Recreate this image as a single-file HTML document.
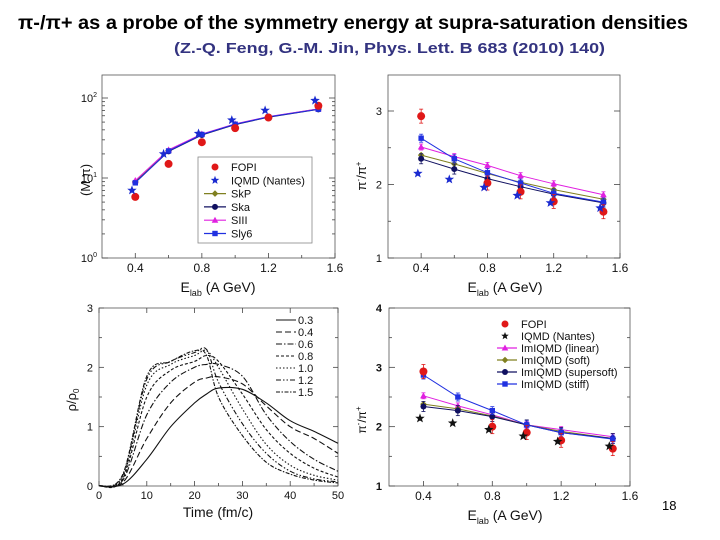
<!DOCTYPE html>
<html><head><meta charset="utf-8"><style>
body{margin:0;background:#fff}
svg{display:block;font-family:"Liberation Sans",sans-serif}
</style></head><body>
<svg id="s" width="720" height="540" viewBox="0 0 720 540">
<text x="18" y="29" font-size="19" font-weight="bold" textLength="670" lengthAdjust="spacingAndGlyphs">π-/π+ as a probe of the symmetry energy at supra-saturation densities</text>
<text x="174" y="53" font-size="15" font-weight="bold" fill="#333380" textLength="431" lengthAdjust="spacingAndGlyphs">(Z.-Q. Feng, G.-M. Jin, Phys. Lett. B 683 (2010) 140)</text>
<text x="662" y="510" font-size="13">18</text>
</svg>
<script>
// ---- data chart 1 (multiplicity, log) ----
const energies = [0.4,0.6,0.8,1.0,1.2,1.5];
const starE = [0.38,0.57,0.78,0.98,1.18,1.48];
const c1Fopi = [5.8,15,28,42,57,80];
const c1Iqmd = [7,20,36,53,70,93];
const c1SkP = [9,22,35,47,58,73];
const c1Ska = [8.8,21.5,34.5,46.5,57.5,72];
const c1SIII = [9.3,22.5,35.5,47.5,58.5,73];
const c1Sly6 = [8.7,21.8,35,47,58,72.5];
// ---- data chart 2 (ratio) ----
const c2Fopi = [2.93,null,2.02,1.9,1.77,1.63];
const c2Iqmd = [2.15,2.07,1.96,1.85,1.75,1.68];
const c2SkP = [2.4,2.28,2.15,2.03,1.93,1.8];
const c2Ska = [2.35,2.21,2.08,1.97,1.87,1.75];
const c2SIII = [2.51,2.38,2.26,2.12,2.01,1.86];
const c2Sly6 = [2.63,2.35,2.16,2.02,1.88,1.76];
// ---- data chart 3 (density vs time) ----
const times = [0,5,10,15,20,22.5,25,30,35,40,45,50];
const dLabels = ['0.3','0.4','0.6','0.8','1.0','1.2','1.5'];
const d03 = [0,0.03,0.45,1.0,1.4,1.55,1.65,1.63,1.4,1.1,0.92,0.72];
const d04 = [0,0.06,0.8,1.4,1.75,1.82,1.84,1.72,1.35,1.0,0.8,0.55];
const d06 = [0,0.1,1.2,1.75,2.0,2.05,2.05,1.85,1.2,0.75,0.45,0.25];
const d08 = [0,0.12,1.5,1.95,2.1,2.2,2.1,1.55,0.95,0.55,0.3,0.15];
const d10 = [0,0.15,1.7,2.05,2.2,2.28,2.0,1.3,0.7,0.35,0.18,0.1];
const d12 = [0,0.18,1.8,2.1,2.25,2.3,1.75,1.05,0.55,0.25,0.12,0.07];
const d15 = [0,0.2,1.85,2.1,2.28,2.2,1.5,0.85,0.4,0.2,0.1,0.05];
// ---- data chart 4 (ratio ImIQMD) ----
const c4Fopi = [2.93,null,2.0,1.9,1.77,1.63];
const c4Iqmd = [2.14,2.06,1.95,1.84,1.75,1.67];
const c4Linear = [2.52,2.35,2.2,2.03,1.95,1.83];
const c4Soft = [2.38,2.3,2.18,2.03,1.92,1.8];
const c4Super = [2.34,2.27,2.17,2.03,1.9,1.8];
const c4Stiff = [2.87,2.5,2.27,2.03,1.9,1.79];
const xTicksE = [0.4,0.8,1.2,1.6];

const NS='http://www.w3.org/2000/svg';
const svg=document.getElementById('s');
function mk(tag,attrs,parent){const e=document.createElementNS(NS,tag);for(const k in attrs)e.setAttribute(k,attrs[k]);(parent||svg).appendChild(e);return e;}
function lin(d0,d1,r0,r1){return v=>r0+(v-d0)/(d1-d0)*(r1-r0);}

function frame(g,x0,y0,x1,y1){
  const r=mk('rect',{x:x0,y:y0,width:x1-x0,height:y1-y0,fill:'none',stroke:'#555','stroke-width':0.8},g);
  
  
}
function tickLine(g,x1,y1,x2,y2){mk('line',{x1,y1,x2,y2,stroke:'#444','stroke-width':0.8},g);}
function txt(g,x,y,s,opts){const t=mk('text',Object.assign({x,y,'font-size':12,fill:'#111'},opts||{}),g);t.textContent=s;return t;}

function star(g,cx,cy,r,fill){
  let p='';for(let i=0;i<10;i++){const a=-Math.PI/2+i*Math.PI/5;const rr=i%2?r*0.42:r;p+=(cx+rr*Math.cos(a)).toFixed(1)+','+(cy+rr*Math.sin(a)).toFixed(1)+' ';}
  return mk('polygon',{points:p,fill},g);
}
function marker(g,type,cx,cy,color,size){
  if(type==='circle')return mk('circle',{cx,cy,r:size||4,fill:color},g);
  if(type==='square')return mk('rect',{x:cx-2.7,y:cy-2.7,width:5.4,height:5.4,fill:color},g);
  if(type==='tri')return mk('polygon',{points:`${cx},${cy-3.5} ${cx+3.3},${cy+2.5} ${cx-3.3},${cy+2.5}`,fill:color},g);
  if(type==='diamond')return mk('polygon',{points:`${cx},${cy-3.3} ${cx+3.3},${cy} ${cx},${cy+3.3} ${cx-3.3},${cy}`,fill:color},g);
  if(type==='hex')return mk('circle',{cx,cy,r:3,fill:color},g);
  if(type==='star')return star(g,cx,cy,size||5,color);
}
function series(g,name,xs,ys,sx,sy,color,type,line,err){
  const sg=mk('g',{},g);
  
  
  if(line){let d='';xs.forEach((x,i)=>{if(ys[i]==null)return;d+=(d?'L':'M')+sx(x).toFixed(1)+','+sy(ys[i]).toFixed(1);});mk('path',{d,fill:'none',stroke:color,'stroke-width':1},sg);}
  xs.forEach((x,i)=>{if(ys[i]==null)return;const cx=sx(x),cy=sy(ys[i]);
    if(err){mk('line',{x1:cx,y1:cy-err,x2:cx,y2:cy+err,stroke:color,'stroke-width':0.8},sg);mk('line',{x1:cx-2,y1:cy-err,x2:cx+2,y2:cy-err,stroke:color,'stroke-width':0.8},sg);mk('line',{x1:cx-2,y1:cy+err,x2:cx+2,y2:cy+err,stroke:color,'stroke-width':0.8},sg);}
    const m=marker(sg,type,cx,cy,color,type==='circle'?4:(type==='star'?5:null));
    
    
  });
}
function eAxisX(g,sx,yb,y0){
  xTicksE.forEach(v=>{tickLine(g,sx(v),yb,sx(v),yb-5);txt(g,sx(v),yb+14,v.toFixed(1),{'text-anchor':'middle'});});
  [0.2,0.6,1.0,1.4].forEach(v=>{if(sx(v)>sx(0.2)+1)tickLine(g,sx(v),yb,sx(v),yb-3);});
}
function eLabel(g,cx,y,name){
  const t=mk('text',{x:cx,y,'font-size':14,'text-anchor':'middle',fill:'#111'},g);
  
  
  t.innerHTML='E<tspan font-size="9" dy="4">lab</tspan><tspan dy="-4"> (A GeV)</tspan>';
}

// ===== Chart 1 =====
(function(){
  const g=mk('g',{});
  const sx=lin(0.2,1.6,102,335);const ly=lin(0,2,258,98);const sy=v=>ly(Math.log10(v));
  frame(g,102,75,335,258);
  eAxisX(g,sx,258);
  [0,1,2].forEach(p=>{const y=ly(p);tickLine(g,102,y,108,y);tickLine(g,335,y,329,y);
    const t=mk('text',{x:97,y:y+4,'font-size':11,'text-anchor':'end',fill:'#111'},g);t.innerHTML='10<tspan font-size="7" dy="-5">'+p+'</tspan>';});
  for(let p=0;p<2;p++)for(let k=2;k<10;k++){const y=sy(k*Math.pow(10,p));tickLine(g,102,y,105,y);tickLine(g,335,y,332,y);}
  const yl=mk('text',{x:0,y:0,'font-size':13,'text-anchor':'middle',fill:'#111',transform:'translate(90,180) rotate(-90)'},g);
  yl.textContent='(M π)';
  eLabel(g,218,292,'x-axis-title');
  series(g,'skp-series',energies,c1SkP,sx,sy,'#808020','diamond',true);
  series(g,'ska-series',energies,c1Ska,sx,sy,'#101060','hex',true);
  series(g,'siii-series',energies,c1SIII,sx,sy,'#e020e0','tri',true);
  series(g,'sly6-series',energies,c1Sly6,sx,sy,'#2030e0','square',true);
  series(g,'fopi-series',energies,c1Fopi,sx,sy,'#e01818','circle',false);
  series(g,'iqmd-series',starE,c1Iqmd,sx,sy,'#1a2ad0','star',false);
  const lg=mk('g',{},g);
  mk('rect',{x:198,y:157,width:114,height:86,fill:'#fff',stroke:'#888','stroke-width':0.8},lg);
  const items=[['FOPI','#e01818','circle',false],['IQMD (Nantes)','#1a2ad0','star',false],['SkP','#808020','diamond',true],['Ska','#101060','hex',true],['SIII','#e020e0','tri',true],['Sly6','#2030e0','square',true]];
  items.forEach((it,i)=>{const y=167+i*13.3;const e=mk('g',{},lg);
    if(it[3])mk('line',{x1:204,y1:y,x2:226,y2:y,stroke:it[1],'stroke-width':1.2},e);
    marker(e,it[2],215,y,it[1],it[2]==='circle'?3.5:4.5);txt(e,231,y+4,it[0],{'font-size':11});});
})();

// ===== Chart 2 =====
(function(){
  const g=mk('g',{});
  const sx=lin(0.2,1.6,388,620);const sy=lin(1,3,258,111);
  frame(g,388,75,620,258);
  eAxisX(g,sx,258);
  [1,2,3].forEach(v=>{const y=sy(v);tickLine(g,388,y,394,y);tickLine(g,620,y,614,y);txt(g,382,y+4,String(v),{'font-size':11,'text-anchor':'end'});});
  [1.5,2.5].forEach(v=>{const y=sy(v);tickLine(g,388,y,391,y);tickLine(g,620,y,617,y);});
  const yl=mk('text',{x:0,y:0,'font-size':13,'text-anchor':'middle',fill:'#111',transform:'translate(366,176) rotate(-90)'},g);
  
  yl.innerHTML='π<tspan font-size="8" dy="-5">-</tspan><tspan dy="5">/π</tspan><tspan font-size="8" dy="-5">+</tspan>';
  eLabel(g,505,292,'x-axis-title');
  series(g,'skp-series',energies,c2SkP,sx,sy,'#808020','diamond',true);
  series(g,'ska-series',energies,c2Ska,sx,sy,'#101060','hex',true,5);
  series(g,'siii-series',energies,c2SIII,sx,sy,'#e020e0','tri',true,3);
  series(g,'sly6-series',energies,c2Sly6,sx,sy,'#2030e0','square',true,4);
  series(g,'fopi-series',energies,c2Fopi,sx,sy,'#e01818','circle',false,7);
  series(g,'iqmd-series',starE,c2Iqmd,sx,sy,'#1a2ad0','star',false);
})();

// ===== Chart 3 =====
(function(){
  const g=mk('g',{});
  const sx=lin(0,50,99,338);const sy=lin(0,3,486,308);
  frame(g,99,308,338,486);
  [0,10,20,30,40,50].forEach(v=>{tickLine(g,sx(v),486,sx(v),481);tickLine(g,sx(v),308,sx(v),313);txt(g,sx(v),499,String(v),{'font-size':11,'text-anchor':'middle'});});
  [5,15,25,35,45].forEach(v=>{tickLine(g,sx(v),486,sx(v),483);});
  [0,1,2,3].forEach(v=>{const y=sy(v);tickLine(g,99,y,104,y);tickLine(g,338,y,333,y);txt(g,93,y+4,String(v),{'font-size':11,'text-anchor':'end'});});
  [0.5,1.5,2.5].forEach(v=>{const y=sy(v);tickLine(g,99,y,102,y);tickLine(g,338,y,335,y);});
  const yl=mk('text',{x:0,y:0,'font-size':13,'text-anchor':'middle',fill:'#111',transform:'translate(76,400) rotate(-90)'},g);
  
  yl.innerHTML='ρ/ρ<tspan font-size="8" dy="3">0</tspan>';
  const xl=txt(g,218,517,'Time (fm/c)',{'font-size':14,'text-anchor':'middle'});
  
  const all=[d03,d04,d06,d08,d10,d12,d15];
  const dashes=['none','6,3','6,2,1.5,2','3,2','1.5,2','5,2,1.5,2,1.5,2','4,1.5,1.5,1.5'];
  all.forEach((ys,si)=>{
    const pts=times.map((t,i)=>[sx(t),sy(ys[i])]);
    let d='M'+pts[0][0]+','+pts[0][1];
    for(let i=0;i<pts.length-1;i++){const p0=pts[Math.max(0,i-1)],p1=pts[i],p2=pts[i+1],p3=pts[Math.min(pts.length-1,i+2)];
      const c1=[p1[0]+(p2[0]-p0[0])/6,p1[1]+(p2[1]-p0[1])/6],c2=[p2[0]-(p3[0]-p1[0])/6,p2[1]-(p3[1]-p1[1])/6];
      d+='C'+c1[0].toFixed(1)+','+c1[1].toFixed(1)+' '+c2[0].toFixed(1)+','+c2[1].toFixed(1)+' '+p2[0].toFixed(1)+','+p2[1].toFixed(1);}
    const p=mk('path',{d,fill:'none',stroke:'#111','stroke-width':1.1,'stroke-dasharray':dashes[si]},g);
    
    
    const ly=320+si*12;
    const le=mk('g',{},g);
    mk('line',{x1:276,y1:ly,x2:296,y2:ly,stroke:'#111','stroke-width':1.1,'stroke-dasharray':dashes[si]},le);
    txt(le,298,ly+4,dLabels[si],{'font-size':11});
  });
})();

// ===== Chart 4 =====
(function(){
  const g=mk('g',{});
  const sx=lin(0.2,1.6,389,630);const sy=lin(1,4,486,308);
  frame(g,389,308,630,486);
  eAxisX(g,sx,486);
  [1,2,3,4].forEach(v=>{const y=sy(v);tickLine(g,389,y,395,y);tickLine(g,630,y,624,y);txt(g,382,y+4,String(v),{'font-size':11,'text-anchor':'end','font-weight':'bold'});});
  [1.5,2.5,3.5].forEach(v=>{const y=sy(v);tickLine(g,389,y,392,y);tickLine(g,630,y,627,y);});
  const yl=mk('text',{x:0,y:0,'font-size':12,'text-anchor':'middle',fill:'#111',transform:'translate(366,420) rotate(-90)'},g);
  
  yl.innerHTML='π<tspan font-size="8" dy="-5">-</tspan><tspan dy="5">/π</tspan><tspan font-size="8" dy="-5">+</tspan>';
  eLabel(g,505,520,'x-axis-title');
  series(g,'linear-series',energies,c4Linear,sx,sy,'#e020e0','tri',true,3);
  series(g,'soft-series',energies,c4Soft,sx,sy,'#808020','diamond',true);
  series(g,'supersoft-series',energies,c4Super,sx,sy,'#101060','hex',true,5);
  series(g,'stiff-series',energies,c4Stiff,sx,sy,'#2030e0','square',true,4);
  series(g,'fopi-series',energies,c4Fopi,sx,sy,'#e01818','circle',false,7);
  series(g,'iqmd-series',starE,c4Iqmd,sx,sy,'#111','star',false,0);
  const lg=mk('g',{},g);
  const items=[['FOPI','#e01818','circle',false],['IQMD (Nantes)','#111','star',false],['ImIQMD (linear)','#e020e0','tri',true],['ImIQMD (soft)','#808020','diamond',true],['ImIQMD (supersoft)','#101060','hex',true],['ImIQMD (stiff)','#2030e0','square',true]];
  items.forEach((it,i)=>{const y=324+i*12;const e=mk('g',{},lg);
    if(it[3])mk('line',{x1:497,y1:y,x2:517,y2:y,stroke:it[1],'stroke-width':1.2},e);
    marker(e,it[2],505,y,it[1],it[2]==='circle'?3.5:4);txt(e,521,y+4,it[0],{'font-size':11});});
})();
</script>
</body></html>
